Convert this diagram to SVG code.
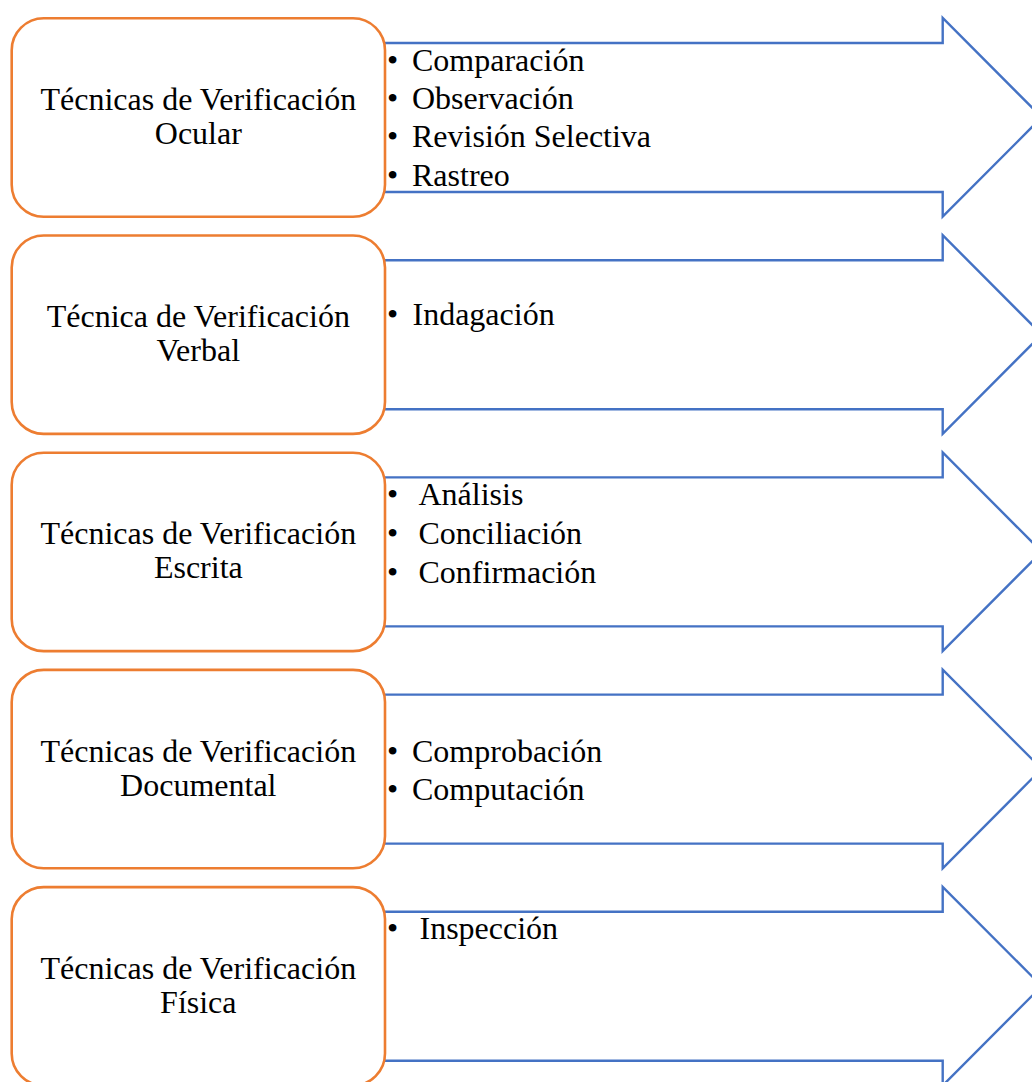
<svg xmlns="http://www.w3.org/2000/svg" width="1032" height="1082" viewBox="0 0 1032 1082" font-family="Liberation Serif, serif" font-size="32">
<style>
.arrow{fill:#fff;stroke:#4472C4;stroke-width:2.4;stroke-linejoin:miter}
.box{fill:#fff;stroke:#ED7D31;stroke-width:2.6}
text{font-family:'Liberation Serif', serif;font-size:32px;fill:#000}
.c{text-anchor:middle}
</style>
<rect width="1032" height="1082" fill="#fff"/>
<g id="connectors">
<path id="arrow1" class="arrow" d="M384 43 H942.7 V18 L1041.7 117.3 L942.7 216.7 V192 H384 Z"/>
<path id="arrow2" class="arrow" d="M384 260.2 H942.7 V235.2 L1041.7 334.5 L942.7 433.9 V409.2 H384 Z"/>
<path id="arrow3" class="arrow" d="M384 477.4 H942.7 V452.4 L1041.7 551.7 L942.7 651.1 V626.4 H384 Z"/>
<path id="arrow4" class="arrow" d="M384 694.6 H942.7 V669.6 L1041.7 768.9 L942.7 868.3 V843.6 H384 Z"/>
<path id="arrow5" class="arrow" d="M384 911.8 H942.7 V886.8 L1041.7 986.1 L942.7 1085.5 V1060.8 H384 Z"/>
</g>
<g id="node1">
<rect class="box" x="11.7" y="18.3" width="373.3" height="198.4" rx="32"/>
<text class="c" x="198.3" y="110">Técnicas de Verificación</text>
<text class="c" x="198.3" y="144">Ocular</text>
</g>
<g id="list1">
<text class="c" x="392.5" y="70.7">•</text><text x="412" y="70.7">Comparación</text>
<text class="c" x="392.5" y="109">•</text><text x="412" y="109">Observación</text>
<text class="c" x="392.5" y="147.4">•</text><text x="412" y="147.4">Revisión Selectiva</text>
<text class="c" x="392.5" y="185.7">•</text><text x="412" y="185.7">Rastreo</text>
</g>
<g id="node2">
<rect class="box" x="11.7" y="235.5" width="373.3" height="198.4" rx="32"/>
<text class="c" x="198.3" y="327.2">Técnica de Verificación</text>
<text class="c" x="198.3" y="361.2">Verbal</text>
</g>
<g id="list2">
<text class="c" x="392.5" y="325">•</text><text x="412.5" y="325">Indagación</text>
</g>
<g id="node3">
<rect class="box" x="11.7" y="452.7" width="373.3" height="198.4" rx="32"/>
<text class="c" x="198.3" y="544.4">Técnicas de Verificación</text>
<text class="c" x="198.3" y="578.4">Escrita</text>
</g>
<g id="list3">
<text class="c" x="392.5" y="505">•</text><text x="418.5" y="505">Análisis</text>
<text class="c" x="392.5" y="544">•</text><text x="418.5" y="544">Conciliación</text>
<text class="c" x="392.5" y="582.7">•</text><text x="418.5" y="582.7">Confirmación</text>
</g>
<g id="node4">
<rect class="box" x="11.7" y="669.9" width="373.3" height="198.4" rx="32"/>
<text class="c" x="198.3" y="761.6">Técnicas de Verificación</text>
<text class="c" x="198.3" y="795.6">Documental</text>
</g>
<g id="list4">
<text class="c" x="392.5" y="761.7">•</text><text x="412" y="761.7">Comprobación</text>
<text class="c" x="392.5" y="800">•</text><text x="412" y="800">Computación</text>
</g>
<g id="node5">
<rect class="box" x="11.7" y="887.1" width="373.3" height="198.4" rx="32"/>
<text class="c" x="198.3" y="978.8">Técnicas de Verificación</text>
<text class="c" x="198.3" y="1012.8">Física</text>
</g>
<g id="list5">
<text class="c" x="392.5" y="939.3">•</text><text x="419.5" y="939.3">Inspección</text>
</g>
</svg>
